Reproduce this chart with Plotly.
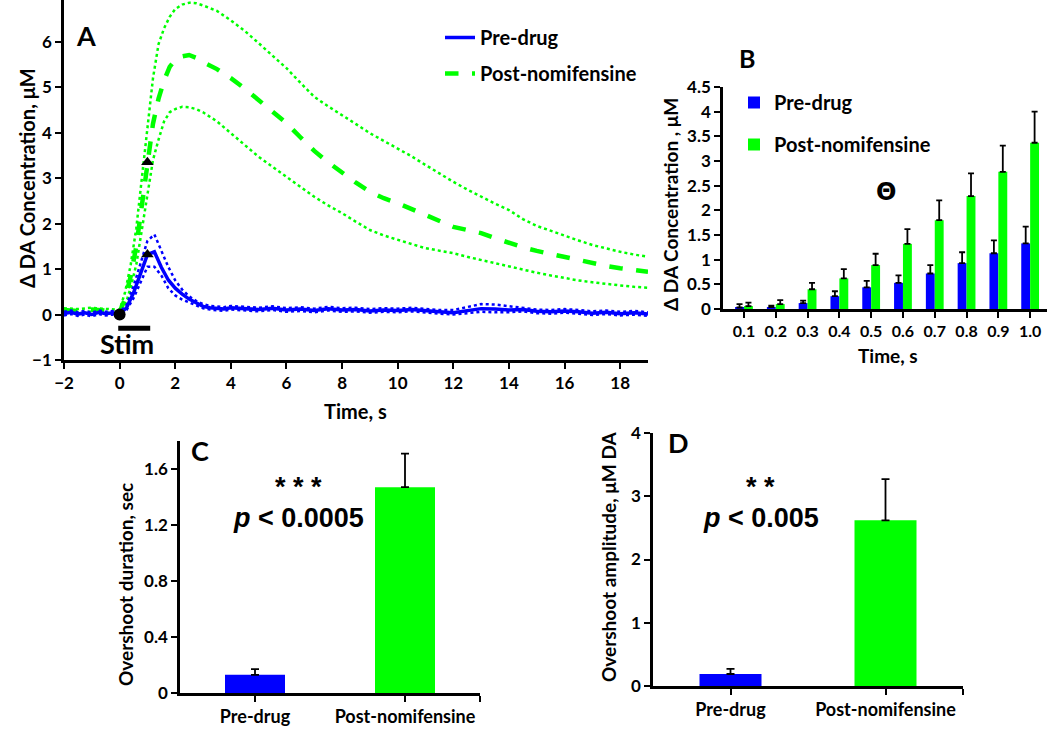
import plotly.graph_objects as go

# ---------------- Panel A data ----------------
t_blue = [-2, -1.75, -1.5, -1.25, -1, -0.75, -0.5, -0.25, 0, 0.25, 0.5, 0.75, 1.0, 1.25, 1.5, 1.75,
          2.0, 2.25, 2.5, 2.75, 3.0, 3.25, 3.5, 3.75, 4.0,
          4.5, 5, 5.5, 6, 6.5, 7, 7.5, 8, 8.5, 9, 9.5, 10, 10.5, 11, 11.5, 12, 12.5, 13, 13.5,
          14, 14.5, 15, 15.5, 16, 16.5, 17, 17.5, 18, 18.5, 19]
pre_mean = [0.02, 0.05, 0.01, 0.04, 0.00, 0.05, 0.02, 0.04, 0.01, 0.15, 0.48, 0.90, 1.32, 1.38, 1.04, 0.76,
            0.58, 0.45, 0.34, 0.26, 0.18, 0.15, 0.14, 0.12, 0.15,
            0.13, 0.11, 0.14, 0.10, 0.12, 0.09, 0.13, 0.10, 0.11, 0.08, 0.10, 0.09, 0.11, 0.08, 0.06,
            0.04, 0.08, 0.13, 0.12, 0.10, 0.11, 0.07, 0.06, 0.08, 0.06, 0.03, 0.05, 0.02, 0.04, 0.01]
pre_upper = [0.06, 0.09, 0.05, 0.08, 0.04, 0.09, 0.06, 0.08, 0.05, 0.21, 0.62, 1.12, 1.62, 1.76, 1.40, 1.05,
             0.75, 0.55, 0.40, 0.30, 0.23, 0.19, 0.18, 0.16, 0.19,
             0.17, 0.15, 0.18, 0.14, 0.16, 0.13, 0.17, 0.14, 0.15, 0.12, 0.14, 0.13, 0.15, 0.12, 0.10,
             0.10, 0.17, 0.23, 0.22, 0.18, 0.15, 0.11, 0.10, 0.12, 0.10, 0.07, 0.09, 0.06, 0.08, 0.05]
pre_lower = [-0.02, 0.01, -0.03, 0.00, -0.04, 0.01, -0.02, 0.00, -0.03, 0.10, 0.36, 0.70, 1.05, 1.05, 0.86, 0.58,
             0.42, 0.33, 0.27, 0.20, 0.14, 0.11, 0.10, 0.08, 0.11,
             0.09, 0.07, 0.10, 0.06, 0.08, 0.05, 0.09, 0.06, 0.07, 0.04, 0.06, 0.05, 0.07, 0.04, 0.02,
             0.00, 0.03, 0.06, 0.05, 0.05, 0.07, 0.03, 0.02, 0.04, 0.02, -0.01, 0.01, -0.02, 0.00, -0.03]

t_green = [-2, -1.5, -1, -0.5, 0, 0.2, 0.4, 0.6, 0.8, 1.0, 1.2, 1.4, 1.6, 1.8, 2.0, 2.25, 2.5, 2.75, 3,
           3.5, 4, 4.5, 5, 5.5, 6, 6.5, 7, 7.5, 8, 8.5, 9, 9.5, 10, 10.5, 11, 11.5, 12, 12.5, 13, 13.5,
           14, 14.5, 15, 15.5, 16, 16.5, 17, 17.5, 18, 18.5, 19]
post_mean = [0.10, 0.08, 0.11, 0.09, 0.06, 0.35, 0.85, 1.50, 2.40, 3.35, 4.20, 4.75, 5.15, 5.45, 5.60, 5.68,
             5.71, 5.65, 5.55, 5.40, 5.20, 4.97, 4.72, 4.47, 4.21, 3.90, 3.60, 3.35, 3.11, 2.90, 2.70,
             2.56, 2.45, 2.32, 2.19, 2.06, 1.93, 1.86, 1.79, 1.68, 1.57, 1.48, 1.40, 1.33, 1.26, 1.19,
             1.13, 1.07, 1.02, 0.98, 0.94]
post_upper = [0.14, 0.12, 0.15, 0.13, 0.10, 0.50, 1.10, 1.90, 2.95, 4.10, 5.20, 5.95, 6.30, 6.55, 6.72, 6.82,
              6.86, 6.85, 6.80, 6.68, 6.47, 6.24, 5.97, 5.70, 5.42, 5.10, 4.79, 4.58, 4.39, 4.19, 3.99,
              3.82, 3.66, 3.48, 3.29, 3.10, 2.92, 2.75, 2.59, 2.44, 2.30, 2.10, 1.95, 1.84, 1.74, 1.63,
              1.53, 1.45, 1.38, 1.32, 1.27]
post_lower = [0.06, 0.04, 0.07, 0.05, 0.02, 0.20, 0.60, 1.10, 1.85, 2.70, 3.40, 3.85, 4.25, 4.45, 4.52, 4.57,
              4.56, 4.52, 4.45, 4.25, 3.99, 3.73, 3.47, 3.25, 3.03, 2.80, 2.59, 2.40, 2.23, 2.04, 1.86,
              1.74, 1.64, 1.55, 1.46, 1.40, 1.35, 1.27, 1.20, 1.12, 1.05, 0.98, 0.92, 0.86, 0.80, 0.75,
              0.71, 0.67, 0.64, 0.61, 0.59]

marker_t = [1.0, 1.0]
marker_val = [3.35, 1.32]
stim_start_end = [-0.05, 1.1]
stim_level = -0.3

# ---------------- Panel B data ----------------
b_labels = ["0.1", "0.2", "0.3", "0.4", "0.5", "0.6", "0.7", "0.8", "0.9", "1.0"]
b_pre = [0.03, 0.04, 0.12, 0.26, 0.44, 0.53, 0.72, 0.93, 1.13, 1.33]
b_pre_err = [0.07, 0.03, 0.05, 0.10, 0.13, 0.15, 0.17, 0.22, 0.26, 0.34]
b_post = [0.06, 0.10, 0.40, 0.62, 0.89, 1.32, 1.80, 2.29, 2.78, 3.37]
b_post_err = [0.07, 0.08, 0.13, 0.19, 0.23, 0.30, 0.40, 0.46, 0.53, 0.63]

# ---------------- Panels C, D data ----------------
groups = ["Pre-drug", "Post-nomifensine"]
c_vals = [0.13, 1.47]
c_err = [0.04, 0.24]
d_vals = [0.19, 2.62]
d_err = [0.08, 0.65]

BLUE = "#0000FF"
GREEN = "#00FF00"
FONT = "Lato"
W, H = 1050, 731


def px(x):
    return x / W


def py(y):
    return 1 - y / H


fig = go.Figure()

# Panel A traces
fig.add_trace(go.Scatter(x=t_green, y=post_upper, mode="lines", line=dict(color=GREEN, width=2.5, dash="dot"),
                         showlegend=False, xaxis="x", yaxis="y", hoverinfo="skip"))
fig.add_trace(go.Scatter(x=t_green, y=post_lower, mode="lines", line=dict(color=GREEN, width=2.5, dash="dot"),
                         showlegend=False, xaxis="x", yaxis="y", hoverinfo="skip"))
fig.add_trace(go.Scatter(x=t_green, y=post_mean, mode="lines", name="Post-nomifensine",
                         line=dict(color=GREEN, width=4.5, dash="dash"),
                         legend="legend", legendgroup="g2", legendrank=2, xaxis="x", yaxis="y"))
fig.add_trace(go.Scatter(x=t_blue, y=pre_upper, mode="lines", line=dict(color=BLUE, width=2.5, dash="dot"),
                         showlegend=False, xaxis="x", yaxis="y", hoverinfo="skip"))
fig.add_trace(go.Scatter(x=t_blue, y=pre_lower, mode="lines", line=dict(color=BLUE, width=2.5, dash="dot"),
                         showlegend=False, xaxis="x", yaxis="y", hoverinfo="skip"))
fig.add_trace(go.Scatter(x=t_blue, y=pre_mean, mode="lines", name="Pre-drug",
                         line=dict(color=BLUE, width=3.5),
                         legend="legend", legendgroup="g1", legendrank=1, xaxis="x", yaxis="y"))
fig.add_trace(go.Scatter(x=marker_t, y=marker_val, mode="markers",
                         marker=dict(symbol="triangle-up", size=11, color="black"),
                         showlegend=False, xaxis="x", yaxis="y"))
fig.add_trace(go.Scatter(x=[0], y=[0], mode="markers", marker=dict(symbol="circle", size=12, color="black"),
                         showlegend=False, xaxis="x", yaxis="y"))
fig.add_trace(go.Scatter(x=stim_start_end, y=[stim_level, stim_level], mode="lines",
                         line=dict(color="black", width=5), showlegend=False, xaxis="x", yaxis="y"))

# Panel B traces
b_idx = list(range(len(b_labels)))
fig.add_trace(go.Bar(x=b_idx, y=b_pre, width=0.28, offset=-0.28, marker=dict(color=BLUE, line=dict(width=0)),
                     error_y=dict(type="data", array=b_pre_err, arrayminus=[0] * len(b_pre), symmetric=False,
                                  color="black", thickness=1.8, width=3),
                     name="Pre-drug", legend="legend2", legendgroup="b1", legendrank=1, xaxis="x2", yaxis="y2"))
fig.add_trace(go.Bar(x=b_idx, y=b_post, width=0.28, offset=0, marker=dict(color=GREEN, line=dict(width=0)),
                     error_y=dict(type="data", array=b_post_err, arrayminus=[0] * len(b_post), symmetric=False,
                                  color="black", thickness=1.8, width=3),
                     name="Post-nomifensine", legend="legend2", legendgroup="b2", legendrank=2,
                     xaxis="x2", yaxis="y2"))

# Panel C and D
g_idx = list(range(len(groups)))
fig.add_trace(go.Bar(x=g_idx, y=c_vals, width=0.4, marker=dict(color=[BLUE, GREEN], line=dict(width=0)),
                     error_y=dict(type="data", array=c_err, arrayminus=[0, 0], symmetric=False,
                                  color="black", thickness=1.8, width=4),
                     showlegend=False, xaxis="x3", yaxis="y3"))
fig.add_trace(go.Bar(x=g_idx, y=d_vals, width=0.4, marker=dict(color=[BLUE, GREEN], line=dict(width=0)),
                     error_y=dict(type="data", array=d_err, arrayminus=[0, 0], symmetric=False,
                                  color="black", thickness=1.8, width=4),
                     showlegend=False, xaxis="x4", yaxis="y4"))

tickfont = dict(family=FONT, size=17, color="black", weight="bold")
axis_common = dict(showline=True, linecolor="black", linewidth=2.5, ticks="outside", tickcolor="black",
                   tickwidth=2, ticklen=6, showgrid=False, zeroline=False, tickfont=tickfont, fixedrange=True)
cat_axis = {**axis_common, "tickfont": dict(tickfont, size=18)}
b_xaxis = {**axis_common, "tickfont": dict(tickfont, size=16)}

fig.update_layout(
    width=W, height=H, margin=dict(l=0, r=0, t=0, b=0, autoexpand=False), autosize=False,
    paper_bgcolor="white", plot_bgcolor="white",
    barmode="overlay",
    xaxis=dict(domain=[px(64), px(648)], range=[-2, 19], tick0=-2, dtick=2, anchor="y", **axis_common),
    yaxis=dict(domain=[py(360), py(0)], range=[-1, 6.92], tick0=-1, dtick=1, anchor="x", **axis_common),
    xaxis2=dict(domain=[px(723), px(1047)], range=[-0.66, 9.53], tickmode="array", tickvals=b_idx,
                ticktext=b_labels, anchor="y2", **b_xaxis),
    yaxis2=dict(domain=[py(309), py(87)], range=[0, 4.5], tick0=0, dtick=0.5, anchor="x2", **axis_common),
    xaxis3=dict(domain=[px(180), px(480)], range=[-0.5, 1.5], tickmode="array", tickvals=g_idx + [1.5],
                ticktext=groups + [""], anchor="y3", **cat_axis),
    yaxis3=dict(domain=[py(693), py(441)], range=[0, 1.8], tick0=0, dtick=0.4, anchor="x3", **axis_common),
    xaxis4=dict(domain=[px(653), px(963)], range=[-0.5, 1.5], tickmode="array", tickvals=g_idx + [1.5],
                ticktext=groups + [""], anchor="y4", **cat_axis),
    yaxis4=dict(domain=[py(686), py(433)], range=[0, 4], tick0=0, dtick=1, anchor="x4", **axis_common),
    legend=dict(x=px(440), y=py(18), xanchor="left", yanchor="top", bgcolor="rgba(0,0,0,0)",
                font=dict(family=FONT, size=20, color="black", weight="bold"), traceorder="grouped",
                tracegroupgap=7),
    legend2=dict(x=px(734), y=py(83), xanchor="left", yanchor="top", bgcolor="rgba(0,0,0,0)",
                 font=dict(family=FONT, size=20, color="black", weight="bold"), traceorder="grouped",
                 tracegroupgap=13),
)


def ann(text, x, y, size, angle=0, family=FONT, xanchor="center"):
    fig.add_annotation(text=text, x=px(x), y=py(y), xref="paper", yref="paper", showarrow=False,
                       textangle=angle, xanchor=xanchor, yanchor="middle",
                       font=dict(family=family, size=size, color="black", weight="bold"))


ann("A", 86, 35, 27)
ann("B", 747, 58, 25)
ann("C", 200, 450, 27)
ann("D", 678, 442, 27)
ann("Δ DA Concentration, μM", 27, 178, 20, angle=-90)
ann("Time, s", 355, 411, 20)
ann("Δ DA Concentration , μM", 670, 205, 19, angle=-90)
ann("Time, s", 888, 355, 19)
ann("Overshoot duration, sec", 125, 585, 19, angle=-90)
ann("Overshoot amplitude, μM DA", 608, 557, 19, angle=-90)
ann("Stim", 127, 343, 27)
ann("Θ", 886, 192, 24, family="DejaVu Sans")
ann("* * *", 298, 487, 27, family="Liberation Sans")
ann("<i>p</i> &lt; 0.0005", 298, 518, 27, family="Liberation Sans")
ann("* *", 760, 487, 27, family="Liberation Sans")
ann("<i>p</i> &lt; 0.005", 761, 518, 27, family="Liberation Sans")

fig.write_html("out.html", config={"displayModeBar": False},
               post_script="document.body.style.margin='0';document.body.style.overflow='hidden';")
